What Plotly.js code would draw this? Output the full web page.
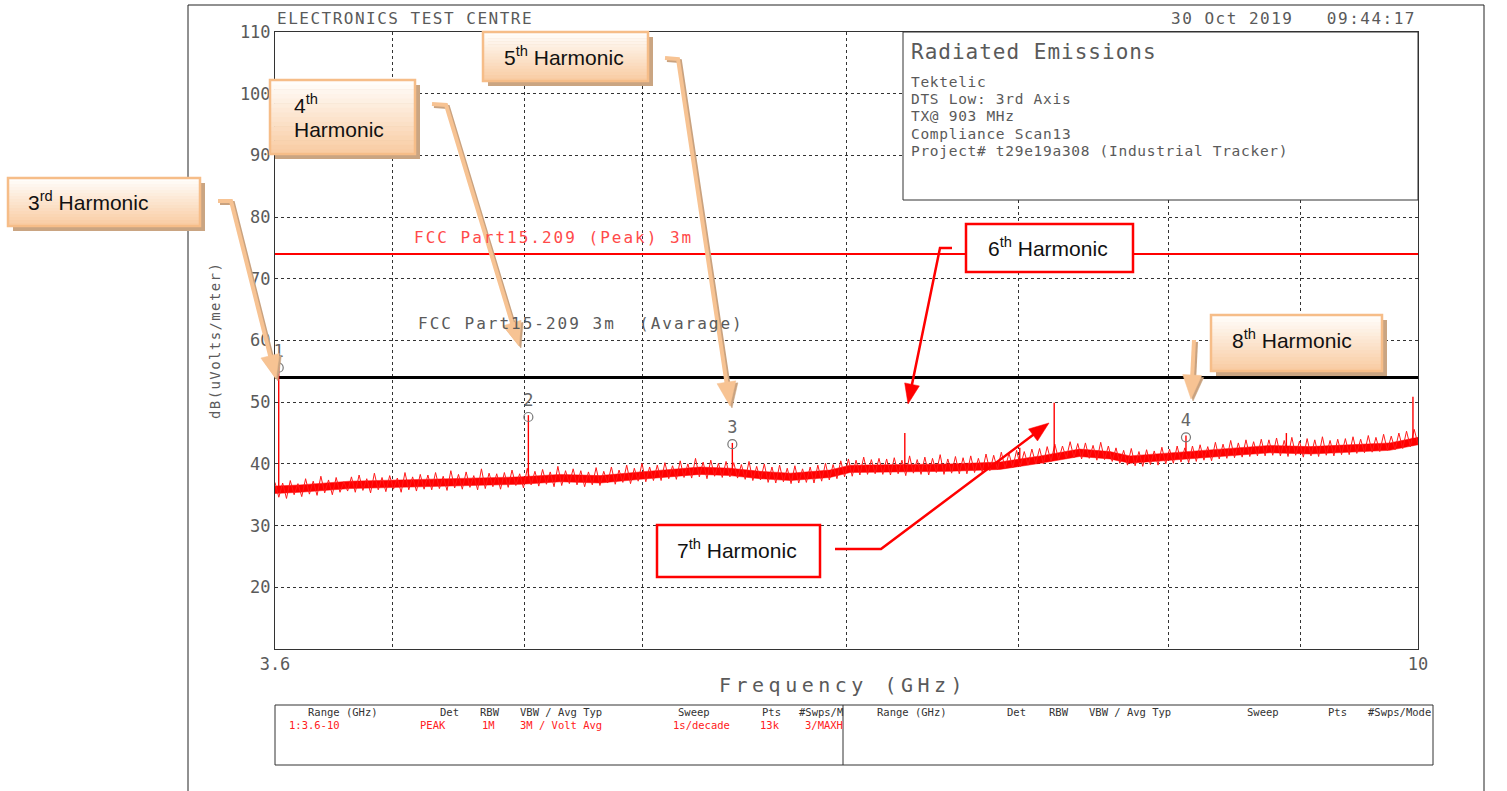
<!DOCTYPE html>
<html><head><meta charset="utf-8">
<script src="https://cdn.plot.ly/plotly-3.0.1.min.js"></script>
<style>html,body{margin:0;padding:0;background:#fff;} #chart{width:1507px;height:791px;}</style>
</head><body><div id="chart"></div>
<script>
// ---------------- DATA ----------------
const sweepStartGHz = 3.6;
const sweepStopGHz = 10;
const traceLevels = [
37.0,34.6,36.9,34.4,37.3,35.0,36.8,34.7,37.6,35.1,37.2,34.9,38.0,35.3,37.4,35.0,37.8,35.4,37.1,35.6,
37.9,35.4,38.2,35.7,37.6,35.3,38.5,35.8,37.8,35.5,38.1,35.9,37.7,35.4,38.6,35.8,37.9,35.6,38.3,35.9,
38.2,35.8,38.6,36.0,38.0,35.7,38.9,36.1,38.3,35.9,38.7,36.2,38.1,35.8,39.2,36.0,38.5,36.3,38.4,35.9,
38.6,36.2,39.0,36.5,38.4,36.1,39.3,36.6,38.8,36.4,39.1,36.7,38.7,36.3,39.6,36.5,38.9,36.8,39.2,36.6,
38.9,36.3,38.7,36.6,39.4,36.5,38.8,36.9,39.5,36.7,39.0,37.0,39.8,36.8,39.3,37.2,40.1,37.1,39.5,37.3,
39.8,37.3,40.2,37.6,39.7,37.5,40.5,37.8,40.0,37.7,40.9,37.9,40.3,37.6,40.6,38.0,40.1,37.8,40.4,37.9,
40.2,37.7,39.9,37.5,40.4,37.3,39.6,37.4,40.0,37.0,39.5,36.9,39.8,37.1,39.3,36.8,39.7,36.9,39.2,37.0,
39.5,36.9,39.8,37.2,40.1,37.4,39.9,37.6,40.5,37.9,40.8,38.0,40.6,38.2,41.1,38.3,40.7,38.4,40.9,38.3,
40.8,38.2,41.0,38.4,40.6,38.1,41.3,38.5,40.7,38.3,41.1,38.2,40.9,38.6,41.5,38.3,40.8,38.5,41.2,38.4,
41.0,38.4,41.3,38.6,40.9,38.7,41.6,38.9,41.4,39.1,41.9,39.3,41.7,39.4,42.2,39.6,42.0,39.8,42.4,40.0,
42.5,40.0,42.8,40.4,43.2,40.7,42.9,40.9,43.6,41.0,43.3,40.8,43.4,40.9,43.0,40.6,43.5,40.7,42.9,40.4,
42.6,40.1,42.2,39.8,42.5,39.7,42.0,39.6,42.3,39.9,42.1,39.8,42.7,40.0,42.4,40.1,42.9,40.3,42.6,40.2,
42.9,40.4,43.1,40.6,42.8,40.5,43.5,40.8,43.2,40.9,43.8,41.0,43.4,41.1,43.9,41.2,43.6,41.3,44.0,41.3,
43.9,41.4,44.2,41.3,43.8,41.2,44.3,41.4,43.7,41.1,44.1,41.3,43.9,41.2,44.4,41.4,43.8,41.3,44.0,41.5,
44.1,41.5,44.4,41.7,44.0,41.8,44.6,41.9,44.3,42.0,44.8,42.2,44.5,42.3,45.0,42.5,45.3,42.8,45.6,43.2
];
// solid core of the noise band (lower / upper edge)
const bandFreq = [3.6, 3.681, 3.849, 4.0, 4.209, 4.487, 4.645, 4.814, 4.99, 5.264, 5.407, 5.554, 5.707, 5.912, 6.019,
                  6.294, 6.581, 6.882, 7.135, 7.39, 7.592, 7.73, 8.01, 8.45, 8.76, 9.08, 9.41, 9.75, 10];
const bandHigh = [36.4, 36.6, 37.2, 37.4, 37.6, 37.9, 38.3, 38.1, 38.7, 39.5, 39.3, 38.8, 38.5, 39.0, 39.8,
                  39.9, 40.0, 40.3, 41.3, 42.4, 42.0, 41.3, 41.8, 42.5, 43.0, 42.8, 43.1, 43.4, 44.3];
const bandLow  = [35.2, 35.4, 36.0, 36.2, 36.4, 36.7, 37.1, 36.9, 37.5, 38.3, 38.1, 37.6, 37.3, 37.8, 38.6,
                  38.7, 38.8, 39.1, 40.1, 41.2, 40.8, 40.1, 40.6, 41.3, 41.8, 41.6, 41.9, 42.2, 43.1];
// narrow emission spikes
const spikeFreq = [3.612, 4.515, 5.418, 6.321, 7.005, 7.224, 8.127, 8.89, 9.955];
const spikeBase = [35.6, 37.4, 38.8, 39.3, 40.2, 41.3, 41.6, 42.6, 43.0];
const spikePeak = [55.8, 47.9, 43.4, 45.0, 42.6, 49.9, 44.6, 45.0, 50.9];
// analyzer markers
const markerFreq = [3.612, 4.515, 5.418, 8.127];
const markerLevel = [55.6, 47.6, 43.2, 44.3];
const markerLabel = ['1', '2', '3', '4'];
// limit lines
const limitPeak = 74;
const limitAvg = 54;
// axes
const xTickVals = [3.6, 4, 4.5, 5, 6, 7, 8, 9, 10];
const xTickText = ['3.6', '', '', '', '', '', '', '', '10'];
const yTickVals = [20, 30, 40, 50, 60, 70, 80, 90, 100, 110];
const yTickText = ['20', '30', '40', '50', '60', '70', '80', '90', '100', '110'];

// ---------------- LAYOUT HELPERS ----------------
const W = 1507, H = 791;
const PL = 275, PR = 1418, PT = 32, PB = 649;
const px = x => (x - PL) / (PR - PL);
const py = y => (PB - y) / (PB - PT);
const MONO = 'DejaVu Sans Mono, monospace';
const SANS = 'Liberation Sans, Arial, sans-serif';
const GRAY = '#5a5a5a';

// sweep frequency grid (log-spaced, as the analyzer sweeps)
const nPts = traceLevels.length;
const traceFreq = traceLevels.map((_, i) =>
  sweepStartGHz * Math.pow(sweepStopGHz / sweepStartGHz, i / (nPts - 1)));

const shapes = [];
const annotations = [];

function rect(x0, y0, x1, y1, fill, line, lw) {
  shapes.push({type: 'rect', xref: 'paper', yref: 'paper', layer: 'above',
    x0: px(x0), x1: px(x1), y0: py(y1), y1: py(y0),
    fillcolor: fill || 'rgba(0,0,0,0)',
    line: {color: line || 'rgba(0,0,0,0)', width: line ? (lw || 1) : 0}});
}
function segLine(x0, y0, x1, y1, color, w) {
  shapes.push({type: 'line', xref: 'paper', yref: 'paper', layer: 'above',
    x0: px(x0), y0: py(y0), x1: px(x1), y1: py(y1), line: {color: color, width: w}});
}
function pathStr(pts, close) {
  return pts.map((p, i) => (i ? 'L' : 'M') + px(p[0]).toFixed(5) + ',' + py(p[1]).toFixed(5)).join(' ') + (close ? ' Z' : '');
}
function arrow(pts, color, w, hl, hw) {
  const n = pts.length;
  const [tx, ty] = pts[n - 1], [bx, by] = pts[n - 2];
  const dx = tx - bx, dy = ty - by, L = Math.hypot(dx, dy);
  const ux = dx / L, uy = dy / L;
  const cx = tx - ux * hl, cy = ty - uy * hl;
  const line = pts.slice(0, n - 1).concat([[cx + ux * 2, cy + uy * 2]]);
  shapes.push({type: 'path', xref: 'paper', yref: 'paper', layer: 'above',
    path: pathStr(line, false), line: {color: color, width: w}, fillcolor: 'rgba(0,0,0,0)'});
  const tri = [[tx, ty], [cx - uy * hw / 2, cy + ux * hw / 2], [cx + uy * hw / 2, cy - ux * hw / 2]];
  shapes.push({type: 'path', xref: 'paper', yref: 'paper', layer: 'above',
    path: pathStr(tri, true), line: {color: color, width: 0.5}, fillcolor: color});
}
function peachArrow(pts) {
  arrow(pts.map(p => [p[0] + 2, p[1] + 2]), '#c9a27f', 4, 24, 19);
  arrow(pts, '#f7c393', 4, 24, 19);
}
function peachBox(x0, y0, x1, y1) {
  rect(x0 + 5, y0 + 5, x1 + 5, y1 + 5, '#caa582');
  const n = 16, top = [255, 253, 250], bot = [249, 204, 163];
  for (let i = 0; i < n; i++) {
    const t = i / (n - 1);
    const c = top.map((v, k) => Math.round(v + (bot[k] - v) * t));
    const ya = y0 + (y1 - y0) * i / n, yb = y0 + (y1 - y0) * (i + 1) / n + 0.6;
    rect(x0, ya, x1, yb, 'rgb(' + c.join(',') + ')');
  }
  rect(x0, y0, x1, y1, null, '#f6bd88', 2.5);
}
function txt(x, y, text, size, color, font, xanchor, extra) {
  annotations.push(Object.assign({xref: 'paper', yref: 'paper', x: px(x), y: py(y),
    text: text, showarrow: false, xanchor: xanchor || 'left', yanchor: 'middle',
    font: {family: font || MONO, size: size, color: color || GRAY}}, extra || {}));
}
const sp = (s, t) => '<span style="letter-spacing:' + s + 'px">' + t + '</span>';

// ---------------- DECORATION ----------------
// page frame
segLine(188, 5, 188, 791, '#222', 1);
segLine(188, 5, 1484, 5, '#222', 1);
segLine(1484, 5, 1484, 791, '#222', 1);

// header
txt(275, 19, sp(1.5, 'ELECTRONICS TEST CENTRE'), 16, GRAY);
txt(1418, 19, sp(1.5, '30 Oct 2019&nbsp;&nbsp;&nbsp;09:44:17'), 16, GRAY, MONO, 'right');

// info box
rect(903, 32, 1418, 200, '#ffffff', '#333', 1);
txt(909, 52, sp(1.0, 'Radiated Emissions'), 21, GRAY);
const infoLines = ['Tektelic', 'DTS Low: 3rd Axis', 'TX@ 903 MHz', 'Compliance Scan13', 'Project# t29e19a308 (Industrial Tracker)'];
const infoY = [82, 99, 116, 134, 151];
infoLines.forEach((t, i) => txt(909, infoY[i], sp(0.7, t), 14.5, GRAY));

// limit labels
txt(412, 237, sp(2.0, 'FCC Part15.209 (Peak) 3m'), 16, '#ff4a4a');
txt(416, 323, sp(2.0, 'FCC Part15-209 3m&nbsp;&nbsp;(Avarage)'), 16, GRAY);

// axis titles
txt(843, 685, sp(4.5, 'Frequency (GHz)'), 20, GRAY, MONO, 'center');
txt(215, 341, sp(1.4, 'dB(uVolts/meter)'), 14, GRAY, MONO, 'center', {textangle: -90});

// bottom settings table
rect(275, 705, 1433, 765, null, '#333', 1);
segLine(843, 705, 843, 765, '#333', 1);
const hdrL = [['Range (GHz)', 306], ['Det', 438], ['RBW', 478], ['VBW / Avg Typ', 518], ['Sweep', 676], ['Pts', 760], ['#Swps/M', 797]];
const valL = [['1:3.6-10', 287], ['PEAK', 418], ['1M', 480], ['3M / Volt Avg', 518], ['1s/decade', 671], ['13k', 758], ['3/MAXH', 803]];
const hdrR = [['Range (GHz)', 875], ['Det', 1005], ['RBW', 1047], ['VBW / Avg Typ', 1087], ['Sweep', 1245], ['Pts', 1326], ['#Swps/Mode', 1366]];
hdrL.forEach(h => txt(h[1], 712, h[0], 10.5, '#333'));
hdrR.forEach(h => txt(h[1], 712, h[0], 10.5, '#333'));
valL.forEach(h => txt(h[1], 725, h[0], 10.5, '#ff2020'));

// callouts: peach
peachBox(8, 178, 200, 226);
txt(88, 201, '3<sup>rd</sup> Harmonic', 21, '#111', SANS, 'center');
peachArrow([[218, 201], [231, 201], [276, 379]]);

peachBox(270, 80, 415, 154);
txt(292, 104, '4<sup>th</sup>', 21, '#111', SANS, 'left');
txt(292, 129, 'Harmonic', 21, '#111', SANS, 'left');
peachArrow([[432, 104], [446, 105], [519, 346]]);

peachBox(483, 32, 648, 81);
txt(564, 56, '5<sup>th</sup> Harmonic', 21, '#111', SANS, 'center');
peachArrow([[665, 58], [678, 59], [730, 406]]);

peachBox(1211, 315, 1382, 371);
txt(1292, 339, '8<sup>th</sup> Harmonic', 21, '#111', SANS, 'center');
peachArrow([[1194, 340], [1191, 399]]);

// callouts: red
rect(966, 224, 1133, 272, '#ffffff', '#ff0000', 2.5);
txt(1048, 247, '6<sup>th</sup> Harmonic', 21, '#111', SANS, 'center');
arrow([[952, 248], [940, 248], [908, 404]], '#ff0000', 2.5, 20, 15);

rect(657, 525, 820, 577, '#ffffff', '#ff0000', 2.5);
txt(737, 549, '7<sup>th</sup> Harmonic', 21, '#111', SANS, 'center');
arrow([[835, 549], [881, 549], [1049, 423]], '#ff0000', 2.5, 20, 15);

// ---------------- TRACES ----------------
const spikeX = [], spikeY = [];
spikeFreq.forEach((f, i) => { spikeX.push(f, f, null); spikeY.push(spikeBase[i], spikePeak[i], null); });

const traces = [
  {x: [sweepStartGHz, sweepStopGHz], y: [limitPeak, limitPeak], mode: 'lines',
   line: {color: '#ff0000', width: 2}, hoverinfo: 'skip'},
  {x: [sweepStartGHz, sweepStopGHz], y: [limitAvg, limitAvg], mode: 'lines',
   line: {color: '#000000', width: 3}, hoverinfo: 'skip'},
  {x: bandFreq, y: bandLow, mode: 'lines', line: {color: '#ff0000', width: 0.5}},
  {x: bandFreq, y: bandHigh, mode: 'lines', line: {color: '#ff0000', width: 0.5},
   fill: 'tonexty', fillcolor: '#ff0000'},
  {x: traceFreq, y: traceLevels, mode: 'lines', line: {color: '#ff1a1a', width: 1}},
  {x: spikeX, y: spikeY, mode: 'lines', line: {color: '#ff0000', width: 1.4}, connectgaps: false},
  {x: markerFreq, y: markerLevel, mode: 'markers+text', text: markerLabel, textposition: 'top center',
   textfont: {family: MONO, size: 17, color: '#666'},
   marker: {symbol: 'circle-open', size: 9, color: '#777', line: {width: 1.2, color: '#777'}}}
];

const layout = {
  width: W, height: H,
  margin: {l: PL, r: W - PR, t: PT, b: H - PB, pad: 0},
  paper_bgcolor: '#ffffff', plot_bgcolor: '#ffffff',
  showlegend: false,
  xaxis: {type: 'log', range: [Math.log10(sweepStartGHz), Math.log10(sweepStopGHz)],
    tickvals: xTickVals, ticktext: xTickText, ticks: '',
    showgrid: true, gridcolor: '#333', griddash: 'dot', gridwidth: 1,
    showline: true, mirror: true, linecolor: '#333', linewidth: 1, zeroline: false,
    tickfont: {family: MONO, size: 17, color: GRAY}, fixedrange: true},
  yaxis: {range: [10, 110], tickvals: yTickVals, ticktext: yTickText, ticks: '',
    showgrid: true, gridcolor: '#333', griddash: 'dot', gridwidth: 1,
    showline: true, mirror: true, linecolor: '#333', linewidth: 1, zeroline: false,
    tickfont: {family: MONO, size: 17, color: GRAY}, fixedrange: true},
  shapes: shapes,
  annotations: annotations
};

Plotly.newPlot('chart', traces, layout, {displayModeBar: false, staticPlot: true});
</script>
</body></html>
